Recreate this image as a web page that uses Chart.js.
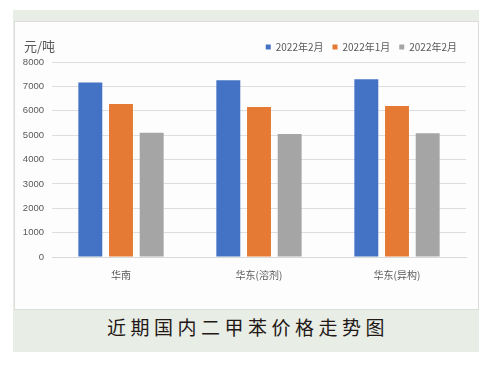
<!DOCTYPE html>
<html>
<head>
<meta charset="utf-8">
<script src="https://cdn.jsdelivr.net/npm/chart.js@4/dist/chart.umd.min.js"></script>
<style>
    body { margin: 0; background: #fff; font-family: "Noto Sans CJK SC", sans-serif; }
    #panel { position: absolute; left: 13px; top: 10px; width: 466px; height: 342px; background: #e8ede6; }
    #box { position: absolute; left: 1px; top: 11px; width: 463px; height: 287px; background: #fdfdfd; border: 1px solid #dcdcdc; }
    #unit { position: absolute; left: 9px; top: 14px; font-size: 13px; color: #595959; }
    #caption { position: absolute; left: 2px; top: 303px; width: 466px; text-align: center; font-size: 19px; letter-spacing: 4.5px; color: #231815; }
</style>
</head>
<body>
<div id="panel">
    <div id="box">
        <canvas id="price-chart" width="463" height="287"></canvas>
        <div id="unit">元/吨</div>
    </div>
    <div id="caption">近期国内二甲苯价格走势图</div>
</div>
<script>
var regions = ['华南', '华东(溶剂)', '华东(异构)'];
var seriesNames = ['2022年2月', '2022年1月', '2022年2月'];
var feb2022 = [7160, 7250, 7290];
var jan2022 = [6280, 6150, 6200];
var feb2022b = [5100, 5050, 5080];
var yTicks = [0, 1000, 2000, 3000, 4000, 5000, 6000, 7000, 8000];

var tickColor = '#595959';
var ctx = document.getElementById('price-chart').getContext('2d');
var priceChart = new Chart(ctx, {
    type: 'bar',
    data: {
        labels: regions,
        datasets: [
            { label: seriesNames[0], data: feb2022, backgroundColor: '#4472c4' },
            { label: seriesNames[1], data: jan2022, backgroundColor: '#e57a34' },
            { label: seriesNames[2], data: feb2022b, backgroundColor: '#a5a5a5' }
        ]
    },
    options: {
        responsive: false,
        animation: false,
        layout: { padding: { left: 6, right: 12, top: 11, bottom: 24 } },
        datasets: { bar: { categoryPercentage: 0.667, barPercentage: 0.78 } },
        plugins: {
            tooltip: { enabled: false },
            legend: {
                position: 'top',
                align: 'end',
                labels: {
                    boxWidth: 5,
                    boxHeight: 5,
                    padding: 9,
                    color: tickColor,
                    font: { family: '"Noto Sans CJK SC"', size: 10 }
                }
            }
        },
        scales: {
            x: {
                grid: { display: false },
                border: { color: '#d9d9d9' },
                ticks: { color: tickColor, font: { family: '"Noto Sans CJK SC"', size: 10 }, padding: 4 }
            },
            y: {
                min: 0,
                max: 8000,
                afterBuildTicks: function (axis) {
                    axis.ticks = yTicks.map(function (v) { return { value: v }; });
                },
                afterFit: function (axis) { axis.width = 31; },
                grid: { color: '#dedede', drawTicks: false },
                border: { display: false },
                ticks: {
                    color: tickColor,
                    font: { family: '"Liberation Sans"', size: 9.5 },
                    padding: 8,
                    callback: function (value) { return String(value); }
                }
            }
        }
    }
});
</script>
</body>
</html>
